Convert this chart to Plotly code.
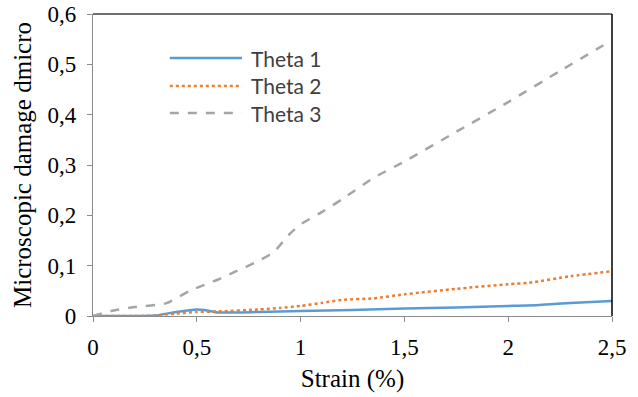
import plotly.graph_objects as go

strain_t1 = [0, 0.2, 0.3, 0.4, 0.5, 0.55, 0.6, 0.8, 1.0, 1.25, 1.5, 1.75, 2.0, 2.15, 2.3, 2.5]
theta1 = [0, 0, 0.001, 0.008, 0.013, 0.011, 0.007, 0.008, 0.010, 0.012, 0.015, 0.017, 0.020, 0.022, 0.026, 0.030]

strain_t2 = [0, 0.2, 0.3, 0.4, 0.5, 0.6, 0.8, 0.9, 1.0, 1.1, 1.2, 1.35, 1.5, 1.75, 2.0, 2.1, 2.3, 2.5]
theta2 = [0, 0, 0.001, 0.005, 0.008, 0.009, 0.013, 0.016, 0.020, 0.026, 0.032, 0.035, 0.043, 0.054, 0.063, 0.066, 0.079, 0.089]

strain_t3 = [0, 0.1, 0.2, 0.35, 0.47, 0.6, 0.68, 0.8, 0.87, 0.95, 1.0, 1.1, 1.2, 1.35, 1.5, 1.75, 2.0, 2.25, 2.5]
theta3 = [0, 0.011, 0.018, 0.025, 0.051, 0.072, 0.087, 0.110, 0.127, 0.164, 0.182, 0.206, 0.232, 0.274, 0.307, 0.366, 0.425, 0.487, 0.548]

series_names = ["Theta 1", "Theta 2", "Theta 3"]
x_ticks = [0, 0.5, 1, 1.5, 2, 2.5]
x_ticktext = ["0", "0,5", "1", "1,5", "2", "2,5"]
y_ticks = [0, 0.1, 0.2, 0.3, 0.4, 0.5, 0.6]
y_ticktext = ["0", "0,1", "0,2", "0,3", "0,4", "0,5", "0,6"]

colors = ["#5B9BD5", "#ED7D31", "#A5A5A5"]
dashes = ["solid", "dot", "dash"]

fig = go.Figure()
for xs, ys, name, c, d in zip([strain_t1, strain_t2, strain_t3], [theta1, theta2, theta3],
                              series_names, colors, dashes):
    fig.add_trace(go.Scatter(x=xs, y=ys, name=name, mode="lines",
                             line=dict(color=c, width=2.5, dash=d, shape="spline", smoothing=0.6),
                             showlegend=False))

serif = "Liberation Serif, Times New Roman, serif"
axis_common = dict(showgrid=False, zeroline=False, showline=True, linecolor="#8c8c8c", linewidth=1.3,
                   ticks="outside", ticklen=5, tickcolor="#8c8c8c", tickwidth=1.3,
                   automargin=False,
                   tickfont=dict(family=serif, size=23, color="#000000"))

fig.update_layout(
    width=638, height=397,
    margin=dict(l=93, r=26, t=14, b=81),
    paper_bgcolor="white", plot_bgcolor="white",
    xaxis=dict(range=[0, 2.5], tickvals=x_ticks, ticktext=x_ticktext, ticklabelstandoff=5,
               title=dict(text="Strain (%)", font=dict(family=serif, size=25, color="#000"), standoff=10),
               **axis_common),
    yaxis=dict(range=[0, 0.6], tickvals=y_ticks, ticktext=y_ticktext, ticklabelstandoff=6,
               title=dict(text="Microscopic damage dmicro", font=dict(family=serif, size=25, color="#000"), standoff=8),
               **axis_common),
)

# frame top and right
fig.add_shape(type="line", xref="paper", yref="paper", x0=0, x1=1, y0=1, y1=1,
              line=dict(color="#404040", width=1.3), layer="above")
fig.add_shape(type="line", xref="paper", yref="paper", x0=1, x1=1, y0=0, y1=1,
              line=dict(color="#000000", width=1.5), layer="above")

# custom legend
leg_y = [0.854, 0.762, 0.672]
for name, c, d, yy in zip(series_names, colors, dashes, leg_y):
    fig.add_shape(type="line", xref="paper", yref="paper", x0=0.148, x1=0.287, y0=yy, y1=yy,
                  line=dict(color=c, width=2.5, dash=d))
    fig.add_annotation(xref="paper", yref="paper", x=0.300, y=yy, text=name, showarrow=False,
                       xanchor="left", yanchor="middle",
                       font=dict(family="Lato, Noto Sans, sans-serif", size=21, color="#404040"))

fig.write_html("out.html")
